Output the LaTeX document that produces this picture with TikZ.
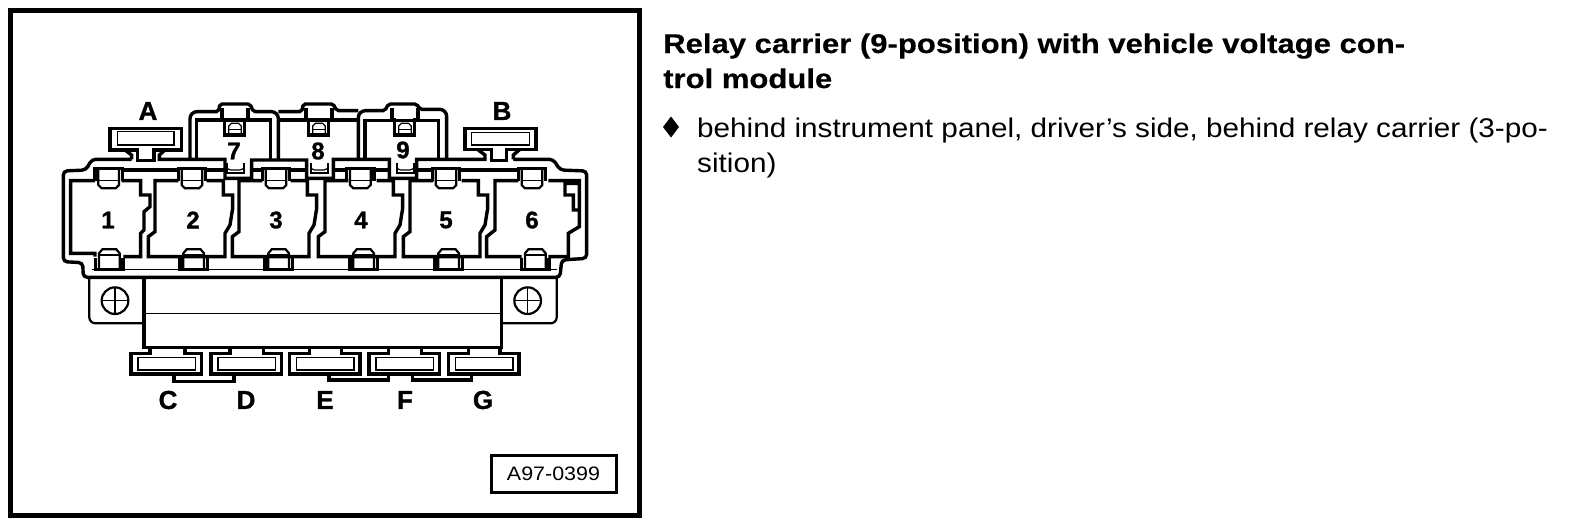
\documentclass[tikz,border=0pt]{standalone}
\usepackage{fontspec}
\setmainfont{Liberation Sans}
\newfontfamily\headfont{Liberation Sans}[FakeStretch=1.15,BoldFeatures={FakeBold=0.4}]
\newfontfamily\labelfont{Liberation Sans}[BoldFeatures={FakeBold=1.2}]
\newfontfamily\bodyfont{Liberation Sans}[FakeStretch=1.10]
\newcommand\relaybody[1]{\begin{scope}[shift={(#1,0)}]
\draw[thick line] (385,272)--(315,272)--(315,425)--(295,440)--(295,500)--(525,500)--(525,430)--(540,405)--(548,355)--(548,315)--(520,315)--(520,272)--(470,272);
\end{scope}}
\newcommand\toptab[1]{\begin{scope}[shift={(#1,0)}]
\draw[thick line] (0,272)--(0,235)--(82,235)--(82,272);
\draw[mid line] (10,240)--(10,285)--(20,295)--(62,295)--(72,285)--(72,240);
\draw[thin line] (10,272)--(72,272);
\end{scope}}
\newcommand\bottab[1]{\begin{scope}[shift={(#1,0)}]
\draw[thick line] (0,505)--(0,538)--(82,538)--(82,505);
\draw[mid line] (10,538)--(10,490)--(20,478)--(62,478)--(72,490)--(72,538);
\draw[thin line] (10,495)--(72,495);
\end{scope}}
\newcommand\uppertab[1]{\begin{scope}[shift={(#1,0)}]
\draw[thick line] (0,55)--(0,90)--(8,90)--(8,135)--(68,135)--(68,90)--(78,90)--(78,55);
\draw[thin line] (20,135)--(20,108)--(28,100)--(50,100)--(58,108)--(58,135);
\draw[thin line] (20,118)--(58,118);
\draw[mid line] (14,220)--(14,250)--(66,250)--(66,220);
\draw[thin line] (14,235)--(26,240)--(54,240)--(66,235);
\end{scope}}
\newcommand\lowertab[3]{% x0 stem-left stem-right
\draw[thick line] (#2,265)--(#2,280)--(#1,280)--(#1,342)--(#1+212,342)--(#1+212,280)--(#3,280)--(#3,265);
\draw[thin line] (#1+21,292) rectangle (#1+194,330);}
\tikzset{
 thick line/.style={line width=3.4pt,line join=miter,black},
 mid line/.style={line width=2.2pt,black},
 thin line/.style={line width=1.2pt,black},
 bold label/.style={font=\fontsize{26}{26}\selectfont\labelfont\bfseries,inner sep=0pt},
 pos number/.style={font=\fontsize{24}{24}\selectfont\labelfont\bfseries,inner sep=0pt},
 head text/.style={anchor=base west,inner sep=0pt,font=\fontsize{27}{27}\selectfont\headfont\bfseries},
 body text/.style={anchor=base west,inner sep=0pt,font=\fontsize{27}{27}\selectfont\bodyfont}
}
\begin{document}
\begin{tikzpicture}[x=1pt,y=-1pt]
\useasboundingbox (0,0) rectangle (1584,528);
\fill[white] (0,0) rectangle (1584,528);
\draw[line width=5pt] (10.5,10.5) rectangle (639.5,515);
% upper part, coordinates in 3x units from (50,90)
\begin{scope}[shift={(50,90)},scale=1/3]
 % outer contour
 \draw[thick line,rounded corners=4pt] (245,208)--(125,208)--(108,240)--(40,243)--(40,515)--(98,518)--(100,562)--(1530,562)--(1535,510)--(1610,505)--(1610,243)--(1530,240)--(1510,208)--(1390,208);
 % tab A and line along the tops
 \draw[thick line] (262,212)--(262,180)--(180,180)--(180,115)--(395,115)--(395,180)--(312,180)--(312,212)--cycle;
 \draw[thick line] (225,180)--(245,195)--(245,208);
 \draw[thick line] (345,180)--(328,195)--(328,208)--(525,208)--(525,265)--(605,265)--(605,210)--(770,210)--(770,265)--(850,265)--(850,208)--(1018,208)--(1018,265)--(1100,265)--(1100,208)--(1305,208)--(1305,195)--(1285,180);
 \draw[thin line] (202,125) rectangle (372,165);
 % tab B
 \draw[thick line] (1325,212)--(1325,178)--(1245,178)--(1245,115)--(1458,115)--(1458,178)--(1370,178)--(1370,212)--cycle;
 \draw[thick line] (1410,178)--(1390,195)--(1390,208);
 \draw[thin line] (1265,127) rectangle (1438,165);
 % boxes 7, 8, 9
 \draw[thick line,rounded corners=7pt] (420,208)--(420,65)--(470,65)[rounded corners=2pt]--(505,65)--(510,42)--(600,42)--(610,65)--(650,65)[rounded corners=7pt]--(685,65)--(685,208);
 \draw[thick line,rounded corners=2pt] (685,65)--(755,65)--(760,42)--(850,42)--(860,62)--(925,62);
 \draw[thick line,rounded corners=7pt] (925,208)--(925,62)--(970,62)[rounded corners=2pt]--(1005,62)--(1015,42)--(1100,42)--(1110,58)--(1150,58)[rounded corners=7pt]--(1190,58)--(1190,208);
 \draw[thick line] (440,208)--(440,90)--(662,90)--(662,208);
 \draw[thick line] (690,90)--(925,90);
 \draw[thick line] (945,208)--(945,92)--(1165,92)--(1165,208);
 \uppertab{516}\uppertab{768}\uppertab{1026}
 % rails above the relays
 \draw[thick line] (215,240)--(385,240) (470,240)--(525,240) (605,240)--(635,240) (720,240)--(770,240) (850,240)--(890,240) (975,240)--(1018,240) (1100,240)--(1145,240) (1230,240)--(1405,240);
 \draw[thin line] (125,538)--(1520,538);
 % relay 1
 \draw[thick line] (135,272)--(62,272)--(62,490)--(135,490)--(135,500) (220,500)--(272,500)--(272,430)--(282,420)--(282,365)--(300,350)--(300,315)--(272,315)--(272,272)--(215,272);
 % relays 2 to 5
 \relaybody{0}\relaybody{252}\relaybody{510}\relaybody{765}
 % relay 6
 \draw[thick line] (1405,272)--(1335,272)--(1335,420)--(1310,440)--(1310,500)--(1415,500) (1495,500)--(1555,500)--(1555,430)--(1588,410)--(1588,360)--(1570,360)--(1570,315)--(1545,315)--(1545,280)--(1588,280)--(1588,360) (1495,272)--(1588,272)--(1588,280);
 % clips
 \toptab{135}\toptab{385}\toptab{637}\toptab{890}\toptab{1147}\toptab{1405}
 \bottab{137}\bottab{390}\bottab{645}\bottab{900}\bottab{1155}\bottab{1415}
\end{scope}
% lower part, coordinates in 3x units from (70,260)
\begin{scope}[shift={(70,260)},scale=1/3]
 \draw[thick line] (222,52) rectangle (1295,262);
 \draw[thin line] (222,160)--(1295,160);
 \draw[mid line] (222,52)--(58,52)--(58,120)[rounded corners=6pt]--(58,190)--(222,190);
 \draw[mid line] (1295,52)--(1460,52)--(1460,120)[rounded corners=6pt]--(1460,190)--(1295,190);
 \draw[mid line] (135,122) circle (40);
 \draw[thin line] (95,122)--(175,122) (135,82)--(135,162);
 \draw[mid line] (1373,122) circle (40);
 \draw[thin line] (1333,122)--(1413,122) (1373,82)--(1373,162);
 \lowertab{183}{240}{345}\lowertab{423}{480}{580}\lowertab{658}{718}{815}\lowertab{897}{955}{1055}\lowertab{1135}{1195}{1290}
 \draw[thick line] (312,342)--(312,365)--(492,365)--(492,342);
 \draw[thick line] (777,342)--(777,360)--(955,360)--(955,342);
 \draw[thick line] (1028,342)--(1028,360)--(1205,360)--(1205,342);
\end{scope}
% labels
\node[bold label] (lA) at (148,111) {A};
\node[bold label] (lB) at (502,111) {B};
\node[bold label] (lC) at (168,400) {C};
\node[bold label] (lD) at (246,400) {D};
\node[bold label] (lE) at (325,400) {E};
\node[bold label] (lF) at (405,400) {F};
\node[bold label] (lG) at (483,400) {G};
\node[pos number] (n1) at (108,220) {1};
\node[pos number] (n2) at (193,220) {2};
\node[pos number] (n3) at (276,220) {3};
\node[pos number] (n4) at (361,220) {4};
\node[pos number] (n5) at (446,220) {5};
\node[pos number] (n6) at (532,220) {6};
\node[pos number] (n7) at (234,151) {7};
\node[pos number] (n8) at (318,151) {8};
\node[pos number] (n9) at (403,150) {9};
\node[draw,line width=3pt,minimum width=125pt,minimum height=37pt,inner sep=0pt,font=\fontsize{19.5}{19.5}\selectfont\bodyfont] (ref) at (553.5,473.5) {A97-0399};
% text
\node[head text] (h1) at (663,53) {Relay carrier (9-position) with vehicle voltage con-};
\node[head text] (h2) at (663,88) {trol module};
\fill (671,116.5)--(679,127)--(671,137.5)--(663,127)--cycle;
\node[body text] (b1) at (697,137) {behind instrument panel, driver’s side, behind relay carrier (3-po-};
\node[body text] (b2) at (697,172) {sition)};
\end{tikzpicture}
\end{document}
